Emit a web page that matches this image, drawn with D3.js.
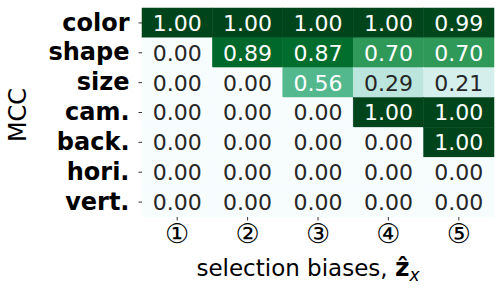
<!DOCTYPE html>
<html>
<head>
<meta charset="utf-8">
<script src="https://cdn.jsdelivr.net/npm/d3@7"></script>
<style>
  body { margin: 0; background: #fff; }
  svg text { font-family: "DejaVu Sans", sans-serif; }
</style>
</head>
<body>
<svg id="chart"></svg>
<script>
var width = 503,
  height = 295;

var rows = ["color", "shape", "size", "cam.", "back.", "hori.", "vert."];
var cols = ["\u2460", "\u2461", "\u2462", "\u2463", "\u2464"];

// MCC per factor, one list per row
var colorVals = [1.00, 1.00, 1.00, 1.00, 0.99];
var shapeVals = [0.00, 0.89, 0.87, 0.70, 0.70];
var sizeVals = [0.00, 0.00, 0.56, 0.29, 0.21];
var camVals = [0.00, 0.00, 0.00, 1.00, 1.00];
var backVals = [0.00, 0.00, 0.00, 0.00, 1.00];
var horiVals = [0.00, 0.00, 0.00, 0.00, 0.00];
var vertVals = [0.00, 0.00, 0.00, 0.00, 0.00];

var values = [colorVals, shapeVals, sizeVals, camVals, backVals, horiVals, vertVals];

var cells = [];
values.forEach(function (r, i) {
  r.forEach(function (v, j) {
    cells.push({ row: rows[i], col: cols[j], value: v });
  });
});

var margin = { top: 8, right: 9, bottom: 78, left: 142 };

var x = d3.scaleBand()
  .domain(cols)
  .range([margin.left, width - margin.right]);

var y = d3.scaleBand()
  .domain(rows)
  .range([margin.top, height - margin.bottom]);

// matplotlib BuGn (linear segments)
var bugn = ["#f7fcfd", "#e5f5f9", "#ccece6", "#99d8c9", "#66c2a4", "#41ae76", "#238b45", "#006d2c", "#00441b"];
var color = d3.scaleLinear()
  .domain(d3.range(bugn.length).map(function (i) { return i / (bugn.length - 1); }))
  .range(bugn)
  .interpolate(d3.interpolateRgb);

function lum(c) {
  var rgb = d3.rgb(c);
  var f = function (v) {
    v = v / 255;
    return v <= 0.03928 ? v / 12.92 : Math.pow((v + 0.055) / 1.055, 2.4);
  };
  return 0.2126 * f(rgb.r) + 0.7152 * f(rgb.g) + 0.0722 * f(rgb.b);
}

var svg = d3.select("#chart")
  .attr("width", width)
  .attr("height", height);

svg.append("g")
  .selectAll("rect")
  .data(cells)
  .enter().append("rect")
  .attr("x", function (d) { return x(d.col); })
  .attr("y", function (d) { return y(d.row); })
  .attr("width", x.bandwidth())
  .attr("height", y.bandwidth())
  .style("fill", function (d) { return color(d.value); })
  .style("stroke", function (d) { return color(d.value); })
  .style("stroke-width", 0.5);

svg.append("g")
  .selectAll("text")
  .data(cells)
  .enter().append("text")
  .attr("x", function (d) { return x(d.col) + x.bandwidth() / 2; })
  .attr("y", function (d) { return y(d.row) + y.bandwidth() / 2; })
  .attr("dy", "0.36em")
  .attr("text-anchor", "middle")
  .style("font-size", "22px")
  .style("fill", function (d) { return lum(color(d.value)) > 0.408 ? "#262626" : "#ffffff"; })
  .text(function (d) { return d3.format(".2f")(d.value); });

var yAxis = svg.append("g")
  .attr("transform", "translate(" + margin.left + ",0)")
  .call(d3.axisLeft(y).tickSize(3.5).tickPadding(9));
yAxis.select(".domain").remove();
yAxis.selectAll(".tick line").attr("stroke", "#333");
yAxis.selectAll("text")
  .style("font-size", "24px")
  .style("font-weight", "bold")
  .attr("fill", "#000");

var xAxis = svg.append("g")
  .attr("transform", "translate(0," + (height - margin.bottom) + ")")
  .call(d3.axisBottom(x).tickSize(3.5).tickPadding(6));
xAxis.select(".domain").remove();
xAxis.selectAll(".tick line").attr("stroke", "#333");
xAxis.selectAll("text")
  .style("font-size", "27px")
  .attr("dy", "0.62em")
  .attr("fill", "#000");

var xl = svg.append("text")
  .attr("x", 308)
  .attr("y", 276)
  .attr("text-anchor", "middle")
  .style("font-size", "23px")
  .attr("fill", "#000");
xl.append("tspan").text("selection biases, ");
xl.append("tspan").style("font-weight", "bold").style("font-size", "25px").text("\u1e91");
xl.append("tspan").attr("dy", 5).style("font-size", "17px").style("font-style", "italic").text("x");

svg.append("text")
  .attr("transform", "translate(26," + 115 + ") rotate(-90)")
  .attr("text-anchor", "middle")
  .style("font-size", "24px")
  .attr("fill", "#000")
  .text("MCC");
</script>
</body>
</html>
